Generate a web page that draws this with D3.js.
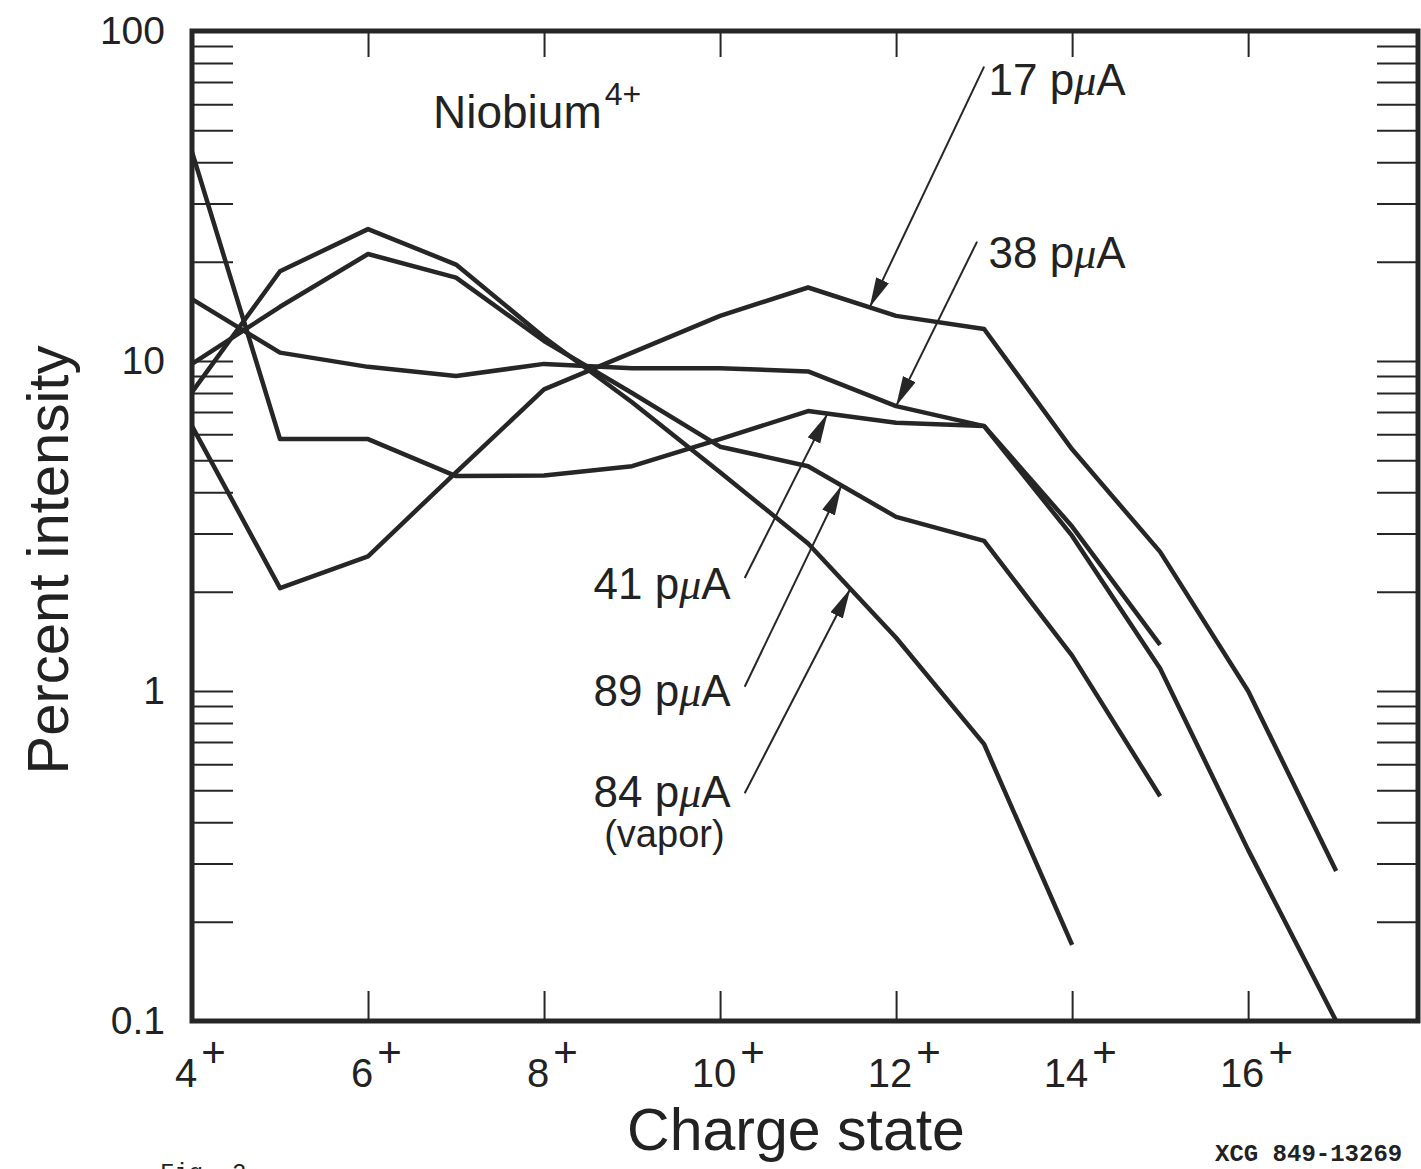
<!DOCTYPE html>
<html>
<head>
<meta charset="utf-8">
<script src="https://cdn.jsdelivr.net/npm/d3@7"></script>
<style>
	body { margin: 0; background: #fff; }
	text { fill: #222; font-family: "Liberation Sans", Arial, sans-serif; }
</style>
</head>
<body>
<div id="chart"></div>
<script>
// charge states on the x axis
const charge = [4, 5, 6, 7, 8, 9, 10, 11, 12, 13, 14, 15, 16, 17];

// percent intensity per charge state (starts at 4+)
const s17 = [6.35, 2.05, 2.56, 4.6, 8.2, 10.6, 13.7, 16.7, 13.7, 12.5, 5.4, 2.64, 1.0, 0.285];
const s38 = [15.4, 10.6, 9.6, 9.0, 9.8, 9.5, 9.5, 9.3, 7.3, 6.35, 3.15, 1.38];
const s41 = [43, 5.8, 5.8, 4.48, 4.5, 4.8, 5.8, 7.05, 6.5, 6.35, 2.95, 1.17, 0.33, 0.1];
const s89 = [9.8, 14.6, 21.1, 17.9, 11.5, 8.0, 5.5, 4.8, 3.37, 2.85, 1.28, 0.48];
const s84 = [8.05, 18.7, 25.1, 19.6, 11.8, 7.5, 4.6, 2.8, 1.45, 0.69, 0.17];

const xTicks = [4, 6, 8, 10, 12, 14, 16];
const yLabels = [0.1, 1, 10, 100];

// labels + arrows, in data units (charge, percent)
const notes = [
	{ text: "17 pμA", sub: null, series: s17, tipX: 11.7, tail: [13.0, 78], at: [13.05, 64], anchor: "start" },
	{ text: "38 pμA", sub: null, series: s38, tipX: 12.0, tail: [12.92, 23], at: [13.05, 19.2], anchor: "start" },
	{ text: "41 pμA", sub: null, series: s41, tipX: 11.22, tail: [10.28, 2.2], at: [10.12, 1.9], anchor: "end" },
	{ text: "89 pμA", sub: null, series: s89, tipX: 11.38, tail: [10.28, 1.03], at: [10.12, 0.9], anchor: "end" },
	{ text: "84 pμA", sub: "(vapor)", series: s84, tipX: 11.48, tail: [10.28, 0.49], at: [10.12, 0.445], anchor: "end" }
];

const W = 1421, H = 1169;
const svg = d3.select("#chart").append("svg")
	.attr("width", W).attr("height", H)
	.attr("viewBox", `0 0 ${W} ${H}`);
svg.append("rect").attr("width", W).attr("height", H).attr("fill", "#fff");

const x = d3.scaleLinear().domain([4, 17.93]).range([192, 1418]);
const y = d3.scaleLog().domain([0.1, 100]).range([1021, 31]);

const ink = "#262626";

// minor ticks on both sides (inside)
let minor = [];
[0.1, 1, 10].forEach((d) => { for (let k = 1; k <= 9; k++) minor.push(d * k); });
minor = minor.filter((d) => d > 0.1);

svg.append("g")
	.attr("transform", `translate(${x(4)},0)`)
	.call(d3.axisRight(y).tickValues(minor).tickSize(41).tickFormat(""))
	.call((g) => g.select(".domain").remove())
	.selectAll("line").attr("stroke", ink).attr("stroke-width", 2);

svg.append("g")
	.attr("transform", `translate(${x.range()[1]},0)`)
	.call(d3.axisLeft(y).tickValues(minor).tickSize(41).tickFormat(""))
	.call((g) => g.select(".domain").remove())
	.selectAll("line").attr("stroke", ink).attr("stroke-width", 2);

// charge state ticks top and bottom (inside)
const inner = xTicks.filter((d) => d > 4);
svg.append("g")
	.attr("transform", `translate(0,${y(100)})`)
	.call(d3.axisBottom(x).tickValues(inner).tickSize(26).tickFormat(""))
	.call((g) => g.select(".domain").remove())
	.selectAll("line").attr("stroke", ink).attr("stroke-width", 2);

svg.append("g")
	.attr("transform", `translate(0,${y(0.1)})`)
	.call(d3.axisTop(x).tickValues(inner).tickSize(30).tickFormat(""))
	.call((g) => g.select(".domain").remove())
	.selectAll("line").attr("stroke", ink).attr("stroke-width", 2);

// frame
svg.append("rect")
	.attr("x", x(4)).attr("y", y(100))
	.attr("width", x.range()[1] - x(4))
	.attr("height", y(0.1) - y(100))
	.attr("fill", "none").attr("stroke", ink).attr("stroke-width", 5);

// data lines
const line = d3.line()
	.x((d, i) => x(charge[i]))
	.y((d) => y(d));

[s17, s38, s41, s89, s84].forEach((s) => {
	svg.append("path")
		.datum(s)
		.attr("d", line)
		.attr("fill", "none")
		.attr("stroke", ink)
		.attr("stroke-width", 4.5)
		.attr("stroke-linejoin", "round");
});

// arrowhead
svg.append("defs").append("marker")
	.attr("id", "head")
	.attr("markerUnits", "userSpaceOnUse")
	.attr("markerWidth", 32).attr("markerHeight", 16)
	.attr("refX", 30).attr("refY", 7)
	.attr("orient", "auto")
	.append("path")
	.attr("d", "M0,0 L30,7 L0,14 Z")
	.attr("fill", ink);

// value on a series at fractional charge, log interpolation
function onLine(s, cx) {
	let i = Math.floor(cx) - 4;
	let f = cx - Math.floor(cx);
	let a = Math.log10(s[i]), b = Math.log10(s[i + 1]);
	return Math.pow(10, a + (b - a) * f);
}

notes.forEach((n) => {
	svg.append("line")
		.attr("x1", x(n.tail[0])).attr("y1", y(n.tail[1]))
		.attr("x2", x(n.tipX)).attr("y2", y(onLine(n.series, n.tipX)))
		.attr("stroke", ink).attr("stroke-width", 2)
		.attr("marker-end", "url(#head)");

	let t = svg.append("text")
		.attr("x", x(n.at[0])).attr("y", y(n.at[1]))
		.attr("text-anchor", n.anchor)
		.style("font-size", "44px");
	let parts = n.text.split("μ");
	t.append("tspan").text(parts[0]);
	t.append("tspan").style("font-style", "italic").style("font-family", "'Liberation Serif', serif").text("μ");
	t.append("tspan").text(parts[1]);

	if (n.sub) {
		let box = t.node().getBBox();
		svg.append("text")
			.attr("x", box.x + box.width / 2 + 2)
			.attr("y", y(n.at[1]) + 40)
			.attr("text-anchor", "middle")
			.style("font-size", "38px")
			.text(n.sub);
	}
});

// title inside plot
const title = svg.append("text")
	.attr("x", 433).attr("y", 128)
	.style("font-size", "46px");
title.append("tspan").text("Niobium");
title.append("tspan").attr("dx", 3).attr("dy", -23).style("font-size", "32px").text("4+");

// y labels
svg.selectAll(".ylab")
	.data(yLabels)
	.enter()
	.append("text")
	.attr("class", "ylab")
	.attr("x", 165)
	.attr("y", (d) => y(d) + 13)
	.attr("text-anchor", "end")
	.style("font-size", "39px")
	.text((d) => d);

// x labels with superscript plus
xTicks.forEach((d) => {
	let num = svg.append("text")
		.attr("x", x(d) - 6).attr("y", 1087)
		.attr("text-anchor", "middle")
		.style("font-size", "40px")
		.text(d);
	let w = num.node().getComputedTextLength();
	svg.append("text")
		.attr("x", x(d) - 6 + w / 2 + 4).attr("y", 1067)
		.style("font-size", "42px")
		.text("+");
});

// axis titles
svg.append("text")
	.attr("x", 796).attr("y", 1150)
	.attr("text-anchor", "middle")
	.style("font-size", "59px")
	.text("Charge state");

svg.append("text")
	.attr("transform", `translate(68,${560}) rotate(-90)`)
	.attr("text-anchor", "middle")
	.style("font-size", "58px")
	.text("Percent intensity");

// figure stamps
svg.append("text")
	.attr("x", 1215).attr("y", 1161)
	.style("font-family", "'Liberation Mono', 'DejaVu Sans Mono', monospace")
	.style("font-weight", "bold")
	.style("font-size", "24px")
	.text("XCG 849-13269");

svg.append("text")
	.attr("x", 160).attr("y", 1180)
	.style("font-family", "'Liberation Mono', 'DejaVu Sans Mono', monospace")
	.style("font-size", "24px")
	.text("Fig. 2");
</script>
</body>
</html>
